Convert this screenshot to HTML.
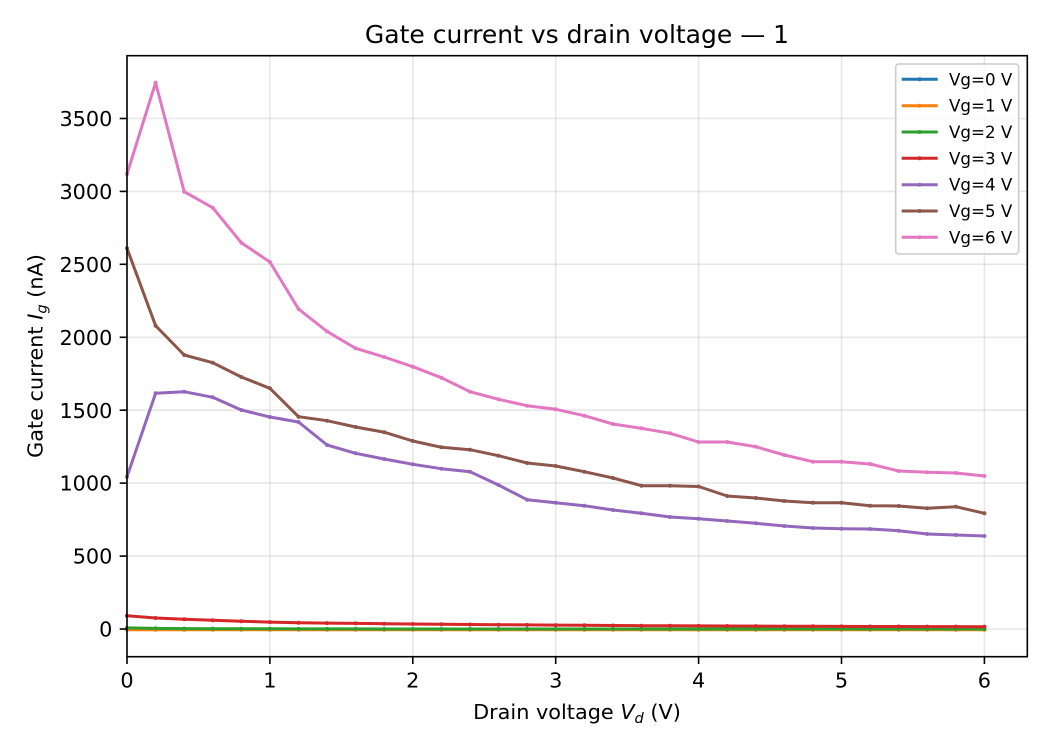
<!DOCTYPE html>
<html>
<head>
<meta charset="utf-8">
<style>
  html, body { margin: 0; padding: 0; background: #ffffff; }
  svg { display: block; }
  text { font-family: "DejaVu Sans", "Liberation Sans", sans-serif; fill: #000; }
</style>
</head>
<body>
<svg width="1050" height="750" viewBox="0 0 1050 750" xmlns="http://www.w3.org/2000/svg">
  <defs>
    <marker id="m0" markerUnits="userSpaceOnUse" markerWidth="6" markerHeight="6" refX="3" refY="3" viewBox="0 0 6 6"><circle cx="3" cy="3" r="2" fill="#1f77b4"/></marker>
    <marker id="m1" markerUnits="userSpaceOnUse" markerWidth="6" markerHeight="6" refX="3" refY="3" viewBox="0 0 6 6"><circle cx="3" cy="3" r="2" fill="#ff7f0e"/></marker>
    <marker id="m2" markerUnits="userSpaceOnUse" markerWidth="6" markerHeight="6" refX="3" refY="3" viewBox="0 0 6 6"><circle cx="3" cy="3" r="2" fill="#2ca02c"/></marker>
    <marker id="m3" markerUnits="userSpaceOnUse" markerWidth="6" markerHeight="6" refX="3" refY="3" viewBox="0 0 6 6"><circle cx="3" cy="3" r="2" fill="#d62728"/></marker>
    <marker id="m4" markerUnits="userSpaceOnUse" markerWidth="6" markerHeight="6" refX="3" refY="3" viewBox="0 0 6 6"><circle cx="3" cy="3" r="2" fill="#9467bd"/></marker>
    <marker id="m5" markerUnits="userSpaceOnUse" markerWidth="6" markerHeight="6" refX="3" refY="3" viewBox="0 0 6 6"><circle cx="3" cy="3" r="2" fill="#8c564b"/></marker>
    <marker id="m6" markerUnits="userSpaceOnUse" markerWidth="6" markerHeight="6" refX="3" refY="3" viewBox="0 0 6 6"><circle cx="3" cy="3" r="2" fill="#e377c2"/></marker>
  </defs>
  <rect x="0" y="0" width="1050" height="750" fill="#ffffff"/>

  <!-- grid -->
  <g stroke="#b0b0b0" stroke-opacity="0.3" stroke-width="1.6" fill="none">
    <line x1="127" y1="55.7" x2="127" y2="656.7"/>
    <line x1="269.9" y1="55.7" x2="269.9" y2="656.7"/>
    <line x1="412.8" y1="55.7" x2="412.8" y2="656.7"/>
    <line x1="555.7" y1="55.7" x2="555.7" y2="656.7"/>
    <line x1="698.6" y1="55.7" x2="698.6" y2="656.7"/>
    <line x1="841.5" y1="55.7" x2="841.5" y2="656.7"/>
    <line x1="984.4" y1="55.7" x2="984.4" y2="656.7"/>
    <line x1="127" y1="629.0" x2="1027.3" y2="629.0"/>
    <line x1="127" y1="556.1" x2="1027.3" y2="556.1"/>
    <line x1="127" y1="483.1" x2="1027.3" y2="483.1"/>
    <line x1="127" y1="410.2" x2="1027.3" y2="410.2"/>
    <line x1="127" y1="337.3" x2="1027.3" y2="337.3"/>
    <line x1="127" y1="264.3" x2="1027.3" y2="264.3"/>
    <line x1="127" y1="191.4" x2="1027.3" y2="191.4"/>
    <line x1="127" y1="118.5" x2="1027.3" y2="118.5"/>
  </g>

  <!-- series -->
  <g fill="none" stroke-width="3" stroke-linejoin="round" stroke-linecap="butt">
    <!-- Vg=0 -->
    <polyline stroke="#1f77b4" marker-start="url(#m0)" marker-mid="url(#m0)" marker-end="url(#m0)" points="127.0,629.3 155.6,629.3 184.2,629.3 212.7,629.3 241.3,629.3 269.9,629.3 298.5,629.3 327.1,629.3 355.6,629.3 384.2,629.3 412.8,629.3 441.4,629.3 470.0,629.3 498.5,629.3 527.1,629.3 555.7,629.3 584.3,629.3 612.9,629.3 641.4,629.3 670.0,629.3 698.6,629.3 727.2,629.3 755.8,629.3 784.3,629.3 812.9,629.3 841.5,629.3 870.1,629.3 898.7,629.3 927.2,629.3 955.8,629.3 984.4,629.3"/>
    <!-- Vg=1 -->
    <polyline stroke="#ff7f0e" marker-start="url(#m1)" marker-mid="url(#m1)" marker-end="url(#m1)" points="127.0,629.8 155.6,629.8 184.2,629.8 212.7,629.8 241.3,629.8 269.9,629.8 298.5,629.8 327.1,629.8 355.6,629.8 384.2,629.8 412.8,629.8 441.4,629.8 470.0,629.8 498.5,629.8 527.1,629.8 555.7,629.8 584.3,629.8 612.9,629.8 641.4,629.8 670.0,629.8 698.6,629.8 727.2,629.8 755.8,629.8 784.3,629.8 812.9,629.8 841.5,629.8 870.1,629.8 898.7,629.8 927.2,629.8 955.8,629.8 984.4,629.8"/>
    <!-- Vg=2 -->
    <polyline stroke="#2ca02c" marker-start="url(#m2)" marker-mid="url(#m2)" marker-end="url(#m2)" points="127.0,627.9 155.6,628.4 184.2,628.6 212.7,628.7 241.3,628.8 269.9,628.8 298.5,628.9 327.1,628.9 355.6,628.9 384.2,629 412.8,629 441.4,629 470.0,629 498.5,629 527.1,629 555.7,629 584.3,629 612.9,629 641.4,629 670.0,629 698.6,629 727.2,629 755.8,629 784.3,629 812.9,629 841.5,629 870.1,629 898.7,629 927.2,629 955.8,629 984.4,629"/>
    <!-- Vg=3 -->
    <polyline stroke="#d62728" marker-start="url(#m3)" marker-mid="url(#m3)" marker-end="url(#m3)" points="127.0,615.7 155.6,618 184.2,619.3 212.7,620.3 241.3,621.3 269.9,622.1 298.5,622.7 327.1,623.1 355.6,623.4 384.2,623.7 412.8,624 441.4,624.3 470.0,624.5 498.5,624.7 527.1,624.9 555.7,625.1 584.3,625.3 612.9,625.5 641.4,625.7 670.0,625.8 698.6,625.9 727.2,626 755.8,626.1 784.3,626.2 812.9,626.3 841.5,626.4 870.1,626.5 898.7,626.5 927.2,626.6 955.8,626.6 984.4,626.7"/>
    <!-- Vg=4 -->
    <polyline stroke="#9467bd" marker-start="url(#m4)" marker-mid="url(#m4)" marker-end="url(#m4)" points="127.0,476.7 155.6,393.3 184.2,391.7 212.7,397.3 241.3,410 269.9,417 298.5,422 327.1,445 355.6,453.3 384.2,459 412.8,464.3 441.4,468.7 470.0,471.7 498.5,485 527.1,499.7 555.7,502.7 584.3,505.7 612.9,510 641.4,513.3 670.0,517 698.6,518.8 727.2,521 755.8,523.3 784.3,526 812.9,528 841.5,528.7 870.1,529 898.7,530.7 927.2,534 955.8,535 984.4,536"/>
    <!-- Vg=5 -->
    <polyline stroke="#8c564b" marker-start="url(#m5)" marker-mid="url(#m5)" marker-end="url(#m5)" points="127.0,248.3 155.6,325.7 184.2,355 212.7,362.7 241.3,377 269.9,388.3 298.5,416.7 327.1,420.7 355.6,427 384.2,432.2 412.8,441 441.4,447.3 470.0,449.7 498.5,455.7 527.1,463 555.7,466 584.3,471.7 612.9,478 641.4,485.7 670.0,485.7 698.6,486.5 727.2,496 755.8,498 784.3,501 812.9,502.7 841.5,502.7 870.1,505.7 898.7,506 927.2,508.3 955.8,506.7 984.4,513.3"/>
    <!-- Vg=6 -->
    <polyline stroke="#e377c2" marker-start="url(#m6)" marker-mid="url(#m6)" marker-end="url(#m6)" points="127.0,174 155.6,82.7 184.2,191.7 212.7,207.7 241.3,242.7 269.9,262 298.5,309 327.1,331.5 355.6,348.3 384.2,357 412.8,366.7 441.4,377.7 470.0,391.7 498.5,399.3 527.1,405.7 555.7,409.3 584.3,415.7 612.9,424 641.4,428.3 670.0,433.3 698.6,442 727.2,442 755.8,446.7 784.3,455 812.9,461.7 841.5,461.7 870.1,464 898.7,471 927.2,472.3 955.8,473 984.4,476"/>
  </g>

  <!-- axes frame -->
  <rect x="127" y="55.7" width="900.3" height="601" fill="none" stroke="#000" stroke-width="1.6"/>

  <!-- ticks -->
  <g stroke="#000" stroke-width="1.6">
    <line x1="127" y1="656.7" x2="127" y2="664"/>
    <line x1="269.9" y1="656.7" x2="269.9" y2="664"/>
    <line x1="412.8" y1="656.7" x2="412.8" y2="664"/>
    <line x1="555.7" y1="656.7" x2="555.7" y2="664"/>
    <line x1="698.6" y1="656.7" x2="698.6" y2="664"/>
    <line x1="841.5" y1="656.7" x2="841.5" y2="664"/>
    <line x1="984.4" y1="656.7" x2="984.4" y2="664"/>
    <line x1="119.7" y1="629.0" x2="127" y2="629.0"/>
    <line x1="119.7" y1="556.1" x2="127" y2="556.1"/>
    <line x1="119.7" y1="483.1" x2="127" y2="483.1"/>
    <line x1="119.7" y1="410.2" x2="127" y2="410.2"/>
    <line x1="119.7" y1="337.3" x2="127" y2="337.3"/>
    <line x1="119.7" y1="264.3" x2="127" y2="264.3"/>
    <line x1="119.7" y1="191.4" x2="127" y2="191.4"/>
    <line x1="119.7" y1="118.5" x2="127" y2="118.5"/>
  </g>

  <!-- x tick labels -->
  <g font-size="20.8" text-anchor="middle">
    <text x="127" y="687.4">0</text>
    <text x="269.9" y="687.4">1</text>
    <text x="412.8" y="687.4">2</text>
    <text x="555.7" y="687.4">3</text>
    <text x="698.6" y="687.4">4</text>
    <text x="841.5" y="687.4">5</text>
    <text x="984.4" y="687.4">6</text>
  </g>

  <!-- y tick labels -->
  <g font-size="20.8" text-anchor="end">
    <text x="112.4" y="636.6">0</text>
    <text x="112.4" y="563.7">500</text>
    <text x="112.4" y="490.7">1000</text>
    <text x="112.4" y="417.8">1500</text>
    <text x="112.4" y="344.9">2000</text>
    <text x="112.4" y="271.9">2500</text>
    <text x="112.4" y="199.0">3000</text>
    <text x="112.4" y="126.1">3500</text>
  </g>

  <!-- title -->
  <text x="577" y="43" font-size="25" text-anchor="middle">Gate current vs drain voltage — 1</text>

  <!-- x label -->
  <text x="577" y="719" font-size="20.8" text-anchor="middle">Drain voltage <tspan font-style="italic">V</tspan><tspan font-style="italic" font-size="14.6" dy="4">d</tspan><tspan dy="-4"> (V)</tspan></text>

  <!-- y label -->
  <text transform="translate(42.7,356) rotate(-90)" x="0" y="0" font-size="20.8" text-anchor="middle">Gate current <tspan font-style="italic">I</tspan><tspan font-style="italic" font-size="14.6" dy="4">g</tspan><tspan dy="-4"> (nA)</tspan></text>

  <!-- legend -->
  <rect x="895.7" y="64" width="123" height="190" rx="3" ry="3" fill="#ffffff" fill-opacity="0.8" stroke="#cccccc" stroke-width="1.6"/>
  <g stroke-width="3">
    <line x1="901.7" y1="79.3" x2="937.7" y2="79.3" stroke="#1f77b4"/>
    <line x1="901.7" y1="105.7" x2="937.7" y2="105.7" stroke="#ff7f0e"/>
    <line x1="901.7" y1="132" x2="937.7" y2="132" stroke="#2ca02c"/>
    <line x1="901.7" y1="158.3" x2="937.7" y2="158.3" stroke="#d62728"/>
    <line x1="901.7" y1="184.7" x2="937.7" y2="184.7" stroke="#9467bd"/>
    <line x1="901.7" y1="211" x2="937.7" y2="211" stroke="#8c564b"/>
    <line x1="901.7" y1="237.3" x2="937.7" y2="237.3" stroke="#e377c2"/>
  </g>
  <g>
    <circle cx="919.7" cy="79.3" r="2" fill="#1f77b4"/>
    <circle cx="919.7" cy="105.7" r="2" fill="#ff7f0e"/>
    <circle cx="919.7" cy="132" r="2" fill="#2ca02c"/>
    <circle cx="919.7" cy="158.3" r="2" fill="#d62728"/>
    <circle cx="919.7" cy="184.7" r="2" fill="#9467bd"/>
    <circle cx="919.7" cy="211" r="2" fill="#8c564b"/>
    <circle cx="919.7" cy="237.3" r="2" fill="#e377c2"/>
  </g>
  <g font-size="16.7">
    <text x="949" y="85.3">Vg=0 V</text>
    <text x="949" y="111.7">Vg=1 V</text>
    <text x="949" y="138">Vg=2 V</text>
    <text x="949" y="164.3">Vg=3 V</text>
    <text x="949" y="190.7">Vg=4 V</text>
    <text x="949" y="217">Vg=5 V</text>
    <text x="949" y="243.3">Vg=6 V</text>
  </g>
</svg>
</body>
</html>
